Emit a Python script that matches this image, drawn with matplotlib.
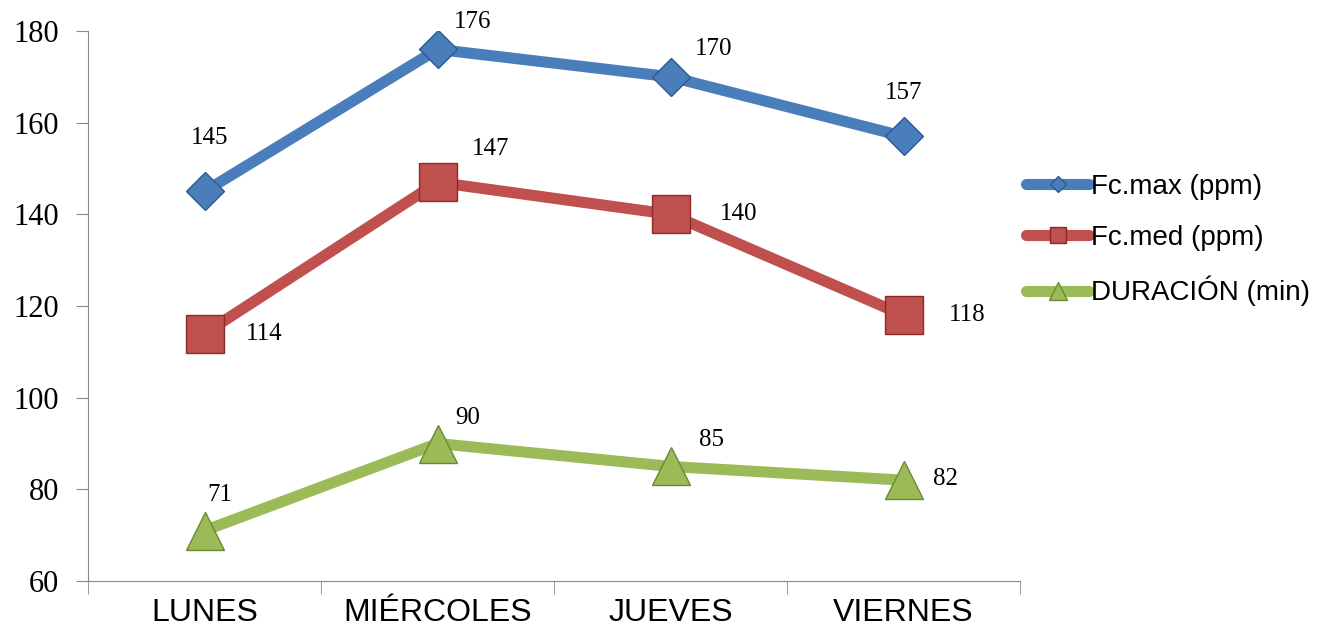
import matplotlib.pyplot as plt
import numpy as np

# Data
days = ["LUNES", "MIÉRCOLES", "JUEVES", "VIERNES"]
fc_max = [145, 176, 170, 157]
fc_med = [114, 147, 140, 118]
duracion = [71, 90, 85, 82]

# label offsets in pixels (dx, dy)
off_max = [(5, 53), (35, 27), (43, 28), (0, 43)]
off_med = [(60, 0), (53, 33), (68, 0), (64, 0)]
off_dur = [(15, 36), (30, 26), (41, 26), (42, 1)]

fig = plt.figure(figsize=(13.36, 6.28), dpi=100)
ax = fig.add_axes([0.0659, 0.0748, 0.6976, 0.8758])

x = np.arange(len(days))
series = [
    (fc_max, "Fc.max (ppm)", "#4A7EBB", "#2C5A95", "D", 19, off_max),
    (fc_med, "Fc.med (ppm)", "#C0504D", "#8B2B28", "s", 27, off_med),
    (duracion, "DURACIÓN (min)", "#9BBB59", "#6B8A30", "^", 28, off_dur),
]
for vals, name, col, edge, mk, ms, offs in series:
    ax.plot(x, vals, color=col, lw=8, marker=mk, markersize=ms,
            markerfacecolor=col, markeredgecolor=edge, markeredgewidth=1,
            solid_capstyle="round", label=name)
    for xi, v, (dx, dy) in zip(x, vals, offs):
        ax.annotate(str(v), (xi, v), xytext=(dx * 0.72, dy * 0.72),
                    textcoords="offset points", ha="center", va="center",
                    fontsize=18, family="Liberation Serif")

ax.set_xlim(-0.5, 3.5)
ax.set_ylim(60, 180)
ax.set_yticks(range(60, 181, 20))
ax.set_yticklabels([str(v) for v in range(60, 181, 20)],
                   fontsize=22, family="Liberation Serif")
ax.set_xticks(x)
ax.set_xticklabels(days, fontsize=23, family="Liberation Sans")
ax.tick_params(axis="x", length=0, pad=12)
ax.set_xticks(np.arange(-0.5, 4, 1), minor=True)
ax.tick_params(axis="x", which="minor", length=9, color="#888888", direction="out")
ax.tick_params(axis="y", length=9, color="#888888", direction="out", pad=12)
for s in ["top", "right"]:
    ax.spines[s].set_visible(False)
for s in ["left", "bottom"]:
    ax.spines[s].set_color("#888888")

leg = ax.legend(loc="center left", bbox_to_anchor=(1.0, 0.62), frameon=False,
                prop={"family": "Liberation Sans", "size": 20},
                handlelength=2.3, handletextpad=0.05, labelspacing=0.9,
                borderaxespad=0.2, borderpad=0, markerscale=0.45)

fig.savefig("out.png", dpi=100)
